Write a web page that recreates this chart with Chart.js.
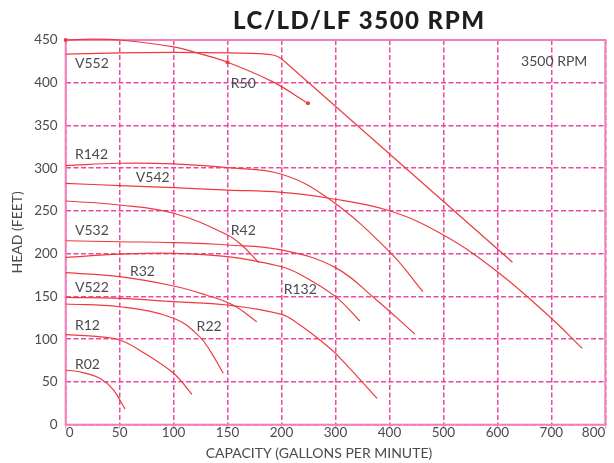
<!DOCTYPE html>
<html><head><meta charset="utf-8">
<script src="https://cdn.jsdelivr.net/npm/chart.js@4.4.1/dist/chart.umd.min.js"></script>
<style>html,body{margin:0;padding:0;background:#fff;}#wrap{width:614px;height:463px;}</style>
</head><body><div id="wrap"><canvas id="c" width="614" height="463"></canvas></div>
<script>
// ---- Tick values ----
const xTickValues = [0, 50, 100, 150, 200, 300, 400, 500, 600, 700, 800];
const yTickValues = [0, 50, 100, 150, 200, 250, 300, 350, 400, 450];

// ---- Series (flow in GPM, head in feet) ----
const r50Flow  = [0, 25, 50, 100, 124, 150, 192, 249];
const r50Head  = [450, 451, 450, 442, 434, 424, 401, 376];
const v552Flow = [0, 50, 100, 150, 180, 190, 196, 200, 628];
const v552Head = [433.5, 435, 435.5, 435, 434, 433, 431, 428, 190];
const r142Flow = [0, 50, 100, 150, 200, 289, 400, 462];
const r142Head = [303, 305.8, 305, 300.6, 293, 263.6, 202.4, 155.6];
const v542Flow = [0, 50, 100, 150, 200, 283, 400, 500, 600, 700, 757];
const v542Head = [282.4, 279.6, 277.3, 274.5, 271.8, 265.5, 250.3, 221.9, 179, 124.5, 89.4];
const r42Flow  = [0, 50, 100, 150, 164, 179];
const r42Head  = [261.7, 257, 247.3, 221.9, 209, 189.5];
const v532Flow = [0, 50, 100, 150, 200, 299, 376, 447];
const v532Head = [215.2, 214, 213, 210.2, 204.4, 184, 145.9, 106.1];
const r132Flow = [0, 50, 100, 150, 200, 234, 300, 345];
const r132Head = [195.8, 199.5, 200.5, 196.5, 184.8, 176, 149.8, 121.3];
const r32Flow  = [0, 50, 100, 130, 155, 177];
const r32Head  = [177.8, 173.1, 162.2, 151.7, 140, 120.5];
const v522Flow = [0, 50, 100, 150, 200, 234, 271, 300, 377];
const v522Head = [149, 147.8, 143.9, 140, 129, 116.6, 99, 83.5, 30.9];
const r22Flow  = [0, 50, 100, 124, 135, 146];
const r22Head  = [141.2, 138, 124.5, 103, 84, 60.1];
const r12Flow  = [0, 25, 50, 75, 100, 117];
const r12Head  = [105.3, 103.5, 99.1, 82, 60.1, 35.5];
const r02Flow  = [0, 16, 32, 44, 55];
const r02Head  = [64, 61, 54, 41, 18.4];

const seriesNames = ['R50','V552','R142','V542','R42','V532','R132','R32','V522','R22','R12','R02'];
const seriesFlows = [r50Flow, v552Flow, r142Flow, v542Flow, r42Flow, v532Flow, r132Flow, r32Flow, v522Flow, r22Flow, r12Flow, r02Flow];
const seriesHeads = [r50Head, v552Head, r142Head, v542Head, r42Head, v532Head, r132Head, r32Head, v522Head, r22Head, r12Head, r02Head];

// ---- Text ----
const titleText = 'LC/LD/LF 3500 RPM';
const noteText = '3500 RPM';
const xTitle = 'CAPACITY (GALLONS PER MINUTE)';
const yTitle = 'HEAD (FEET)';

// label placement (data units: flow, head)
const labelPlacement = [
  ['V552', 8.6, 422.7], ['R50', 153, 399], ['R142', 8.6, 316.6], ['V542', 65, 289.7],
  ['V532', 8.6, 226.6], ['R42', 153, 226.6], ['R32', 59.5, 179.5], ['V522', 8.6, 160.7],
  ['R132', 204, 157.6], ['R12', 8.6, 116.6], ['R22', 121.3, 114.6], ['R02', 8.6, 71]
];
const notePlacement = [644, 424.6];

// broken x axis: 0-200 at 4x the density of 200-800
const toAxis = g => g <= 200 ? g : 100 + g / 2;
const fromAxis = u => u <= 200 ? u : (u - 100) * 2;

const RED = '#ee3a3f';
const GRID = '#ea4a9e';
const FRAME = '#f27fb6';
const TXT = '#4a4a50';

const datasets = seriesNames.map((name, i) => ({
  label: name,
  data: seriesFlows[i].map((f, j) => ({ x: toAxis(f), y: seriesHeads[i][j] })),
  borderColor: RED,
  backgroundColor: RED,
  borderWidth: 1.2,
  fill: false,
  tension: name === 'V552' ? 0 : 0.4,
  clip: false,
  pointRadius: name === 'R50' ? (c => (c.dataIndex === 0 || c.dataIndex === 5 || c.dataIndex === seriesFlows[i].length - 1) ? 2 : 0) : 0,
  pointBorderWidth: 0,
  pointBackgroundColor: RED
}));

const textPlugin = {
  id: 'texts',
  beforeDatasetsDraw(chart) {
    const { ctx, chartArea: a } = chart;
    ctx.save();
    ctx.strokeStyle = FRAME;
    ctx.lineWidth = 2;
    ctx.strokeRect(a.left, a.top, a.right - a.left, a.bottom - a.top);
    ctx.restore();
  },
  afterDraw(chart) {
    const { ctx } = chart;
    const xs = chart.scales.x, ys = chart.scales.y;
    ctx.save();
    ctx.fillStyle = '#1e1e1e';
    ctx.font = '900 24px Lato';
    ctx.textAlign = 'left';
    ctx.textBaseline = 'alphabetic';
    const targetW = 251;
    const w0 = ctx.measureText(titleText).width;
    const ls = (targetW - w0) / (titleText.length - 1);
    if ('letterSpacing' in ctx) ctx.letterSpacing = ls.toFixed(2) + 'px';
    ctx.fillText(titleText, 233, 29.3);
    if ('letterSpacing' in ctx) ctx.letterSpacing = '0px';

    ctx.fillStyle = TXT;
    ctx.font = '14px Lato';
    ctx.textAlign = 'left';
    ctx.textBaseline = 'middle';
    labelPlacement.forEach(([t, f, h]) => {
      ctx.fillText(t, xs.getPixelForValue(toAxis(f)), ys.getPixelForValue(h));
    });
    ctx.fillText(noteText, xs.getPixelForValue(toAxis(notePlacement[0])), ys.getPixelForValue(notePlacement[1]));

    ctx.textAlign = 'center';
    ctx.fillText(xTitle, 319, 453);
    ctx.translate(17, (chart.chartArea.top + chart.chartArea.bottom) / 2);
    ctx.rotate(-Math.PI / 2);
    ctx.fillText(yTitle, 0, 0);
    ctx.restore();
  }
};

new Chart(document.getElementById('c'), {
  type: 'line',
  data: { datasets },
  options: {
    responsive: false,
    animation: false,
    devicePixelRatio: 1,
    layout: { padding: { left: 0, top: 40, right: 8.7, bottom: 0 } },
    plugins: { legend: { display: false }, tooltip: { enabled: false }, title: { display: false } },
    scales: {
      x: {
        type: 'linear',
        min: 0, max: toAxis(800),
        afterBuildTicks: s => { s.ticks = xTickValues.map(v => ({ value: toAxis(v) })); },
        afterFit: s => { s.height = 38.3; },
        ticks: {
          callback: v => String(Math.round(fromAxis(v))),
          align: 'inner',
          maxRotation: 0,
          autoSkip: false,
          padding: -4,
          color: TXT,
          font: { family: 'Lato', size: 13.5 }
        },
        grid: { color: () => GRID, lineWidth: 1.5, drawTicks: true, tickLength: 4, tickColor: FRAME, tickWidth: 1 },
        border: { display: false, dash: [5, 2.5] }
      },
      y: {
        type: 'linear',
        min: 0, max: 450,
        afterBuildTicks: s => { s.ticks = yTickValues.map(v => ({ value: v })); },
        afterFit: s => { s.width = 65.7; },
        ticks: { padding: 8, color: TXT, font: { family: 'Lato', size: 13.5 } },
        grid: { color: () => GRID, lineWidth: 1.5, drawTicks: false },
        border: { display: false, dash: [5, 2.5] }
      }
    }
  },
  plugins: [textPlugin]
});
</script>
</body></html>
